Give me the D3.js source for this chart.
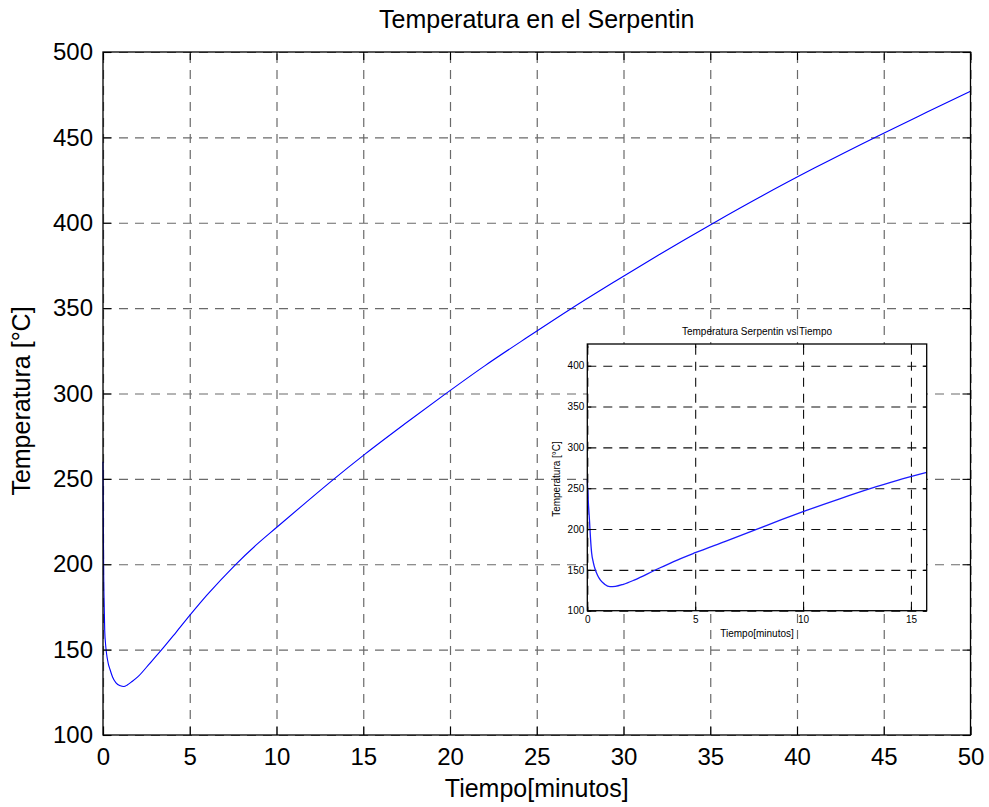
<!DOCTYPE html>
<html><head><meta charset="utf-8">
<script src="https://cdn.jsdelivr.net/npm/d3@7"></script>
<style>
body{margin:0;background:#fff}
svg{display:block;font-family:"Liberation Sans",Arial,Helvetica,sans-serif}
</style>
</head><body>
<svg id="chart" width="989" height="807"></svg>
<script>
// ---- data ----
const mainTime = [0,0.02,0.04,0.07,0.1,0.15,0.2,0.3,0.4,0.55,0.75,1.0,1.2,1.4,1.63,2.0,2.7,3.47,4.2,5.0,6.0,7.6,8.8,10,11.5,13.2,15.1,17.5,19.7,22,24.5,27,29.5,32,35.25,38,41,44.7,47.5,50];
const mainTemp = [260,225,194,175,161,153,148,142,138.5,134,130.5,128.8,128.4,129.3,131,134,142,151,160,170,182,199.4,211,221.5,234.5,249,264.5,283,299.5,316.2,333.2,349.8,365.6,381,400.2,415.8,432,451,464.8,477];
const insetTime = [0,0.05,0.1,0.15,0.2,0.28,0.36,0.48,0.6,0.8,1.05,1.3,1.67,2.2,3.13,4.0,5.0,6.4,7.84,9.0,10,11.7,13.4,14.6,15.73];
const insetTemp = [261,232,211,188,171,159,151,143,137.6,132.5,129.5,129.8,132.3,137.8,149.5,160.2,171,185,199.6,211.5,221.3,237,251.8,261.5,269.5];
const xTicks = [0,5,10,15,20,25,30,35,40,45,50];
const yTicks = [100,150,200,250,300,350,400,450,500];
const insetXTicks = [0,5,10,15];
const insetYTicks = [100,150,200,250,300,350,400];
const mainTitle = "Temperatura en el Serpentin";
const mainXLabel = "Tiempo[minutos]";
const mainYLabel = "Temperatura [°C]";
const insetTitle = "Temperatura Serpentin vs Tiempo";
const insetXLabel = "Tiempo[minutos]";
const insetYLabel = "Temperatura [°C]";

// ---- layout ----
const svg = d3.select("#chart");
const M = {l:103, r:970.5, t:52, b:735};
const x = d3.scaleLinear().domain([0,50]).range([M.l, M.r]);
const y = d3.scaleLinear().domain([100,500]).range([M.b, M.t]);
const W = M.r - M.l, H = M.b - M.t;

// grid
const grid = svg.append("g");
grid.append("g").attr("transform",`translate(0,${M.b})`)
  .call(d3.axisBottom(x).tickValues(xTicks).tickSize(-H).tickFormat(""))
  .call(g=>g.select(".domain").remove())
  .selectAll("line").attr("stroke","#6a6a6a").attr("stroke-width",1.2).attr("stroke-dasharray","9,7");
grid.append("g").attr("transform",`translate(${M.l},0)`)
  .call(d3.axisLeft(y).tickValues(yTicks).tickSize(-W).tickFormat(""))
  .call(g=>g.select(".domain").remove())
  .selectAll("line").attr("stroke","#6a6a6a").attr("stroke-width",1.2).attr("stroke-dasharray","9,7");

// main curve
const mainData = mainTime.map((t,i)=>[t, mainTemp[i]]);
svg.append("path").datum(mainData)
  .attr("fill","none").attr("stroke","#0000ff").attr("stroke-width",1.1)
  .attr("d", d3.line().curve(d3.curveMonotoneX).x(d=>x(d[0])).y(d=>y(d[1])));

// axes with inner ticks
function styleAxis(g, fs){
  g.select(".domain").remove();
  g.selectAll("line").attr("stroke","#000").attr("stroke-width",1.1);
  g.selectAll("text").attr("fill","#000").attr("font-size",fs).attr("font-family","Liberation Sans, Arial, sans-serif");
}
svg.append("g").attr("transform",`translate(0,${M.b})`)
  .call(d3.axisBottom(x).tickValues(xTicks).tickSize(-8).tickPadding(13).tickFormat(d3.format("d")))
  .call(g=>styleAxis(g,24));
svg.append("g").attr("transform",`translate(0,${M.t})`)
  .call(d3.axisTop(x).tickValues(xTicks).tickSize(-8).tickFormat(""))
  .call(g=>styleAxis(g,24));
svg.append("g").attr("transform",`translate(${M.l},0)`)
  .call(d3.axisLeft(y).tickValues(yTicks).tickSize(-8).tickPadding(10).tickFormat(d3.format("d")))
  .call(g=>styleAxis(g,24));
svg.append("g").attr("transform",`translate(${M.r},0)`)
  .call(d3.axisRight(y).tickValues(yTicks).tickSize(-8).tickFormat(""))
  .call(g=>styleAxis(g,24));
svg.append("rect").attr("x",M.l).attr("y",M.t).attr("width",W).attr("height",H)
  .attr("fill","none").attr("stroke","#000").attr("stroke-width",1.3);

// labels
svg.append("text").attr("x",(M.l+M.r)/2).attr("y",28).attr("text-anchor","middle")
  .attr("font-size",25).text(mainTitle);
svg.append("text").attr("x",(M.l+M.r)/2).attr("y",797).attr("text-anchor","middle")
  .attr("font-size",25).text(mainXLabel);
svg.append("text").attr("transform","translate(30,401) rotate(-90)").attr("text-anchor","middle")
  .attr("font-size",25).text(mainYLabel);

// ---- inset ----
const I = {l:587.3, r:926.7, t:344, b:610.7};
const xi = d3.scaleLinear().domain([0,15.73]).range([I.l, I.r]);
const yi = d3.scaleLinear().domain([100,426.6]).range([I.b, I.t]);
const Wi = I.r - I.l, Hi = I.b - I.t;
const ins = svg.append("g");
ins.append("rect").attr("x",I.l).attr("y",I.t).attr("width",Wi).attr("height",Hi).attr("fill","#fff");
ins.append("g").attr("transform",`translate(0,${I.b})`)
  .call(d3.axisBottom(xi).tickValues(insetXTicks).tickSize(-Hi).tickFormat(""))
  .call(g=>g.select(".domain").remove())
  .selectAll("line").attr("stroke","#111").attr("stroke-width",1.1).attr("stroke-dasharray","9,7");
ins.append("g").attr("transform",`translate(${I.l},0)`)
  .call(d3.axisLeft(yi).tickValues(insetYTicks).tickSize(-Wi).tickFormat(""))
  .call(g=>g.select(".domain").remove())
  .selectAll("line").attr("stroke","#111").attr("stroke-width",1.1).attr("stroke-dasharray","9,7");
const insetData = insetTime.map((t,i)=>[t, insetTemp[i]]);
ins.append("path").datum(insetData)
  .attr("fill","none").attr("stroke","#1a1aff").attr("stroke-width",1.3)
  .attr("d", d3.line().curve(d3.curveMonotoneX).x(d=>xi(d[0])).y(d=>yi(d[1])));
ins.append("g").attr("transform",`translate(0,${I.b})`)
  .call(d3.axisBottom(xi).tickValues(insetXTicks).tickSize(-4).tickPadding(5).tickFormat(d3.format("d")))
  .call(g=>styleAxis(g,10));
ins.append("g").attr("transform",`translate(${I.l},0)`)
  .call(d3.axisLeft(yi).tickValues(insetYTicks).tickSize(-4).tickPadding(3).tickFormat(d3.format("d")))
  .call(g=>styleAxis(g,10));
ins.append("g").attr("transform",`translate(${I.r},0)`)
  .call(d3.axisRight(yi).tickValues(insetYTicks).tickSize(-4).tickFormat(""))
  .call(g=>styleAxis(g,10));
ins.append("g").attr("transform",`translate(0,${I.t})`)
  .call(d3.axisTop(xi).tickValues(insetXTicks).tickSize(-4).tickFormat(""))
  .call(g=>styleAxis(g,10));
ins.append("rect").attr("x",I.l).attr("y",I.t).attr("width",Wi).attr("height",Hi)
  .attr("fill","none").attr("stroke","#000").attr("stroke-width",1.3);
ins.append("text").attr("x",(I.l+I.r)/2).attr("y",335).attr("text-anchor","middle")
  .attr("font-size",10).text(insetTitle);
ins.append("text").attr("x",(I.l+I.r)/2).attr("y",637).attr("text-anchor","middle")
  .attr("font-size",10).text(insetXLabel);
ins.append("text").attr("transform","translate(560,479) rotate(-90)").attr("text-anchor","middle")
  .attr("font-size",10).text(insetYLabel);
</script>
</body></html>
